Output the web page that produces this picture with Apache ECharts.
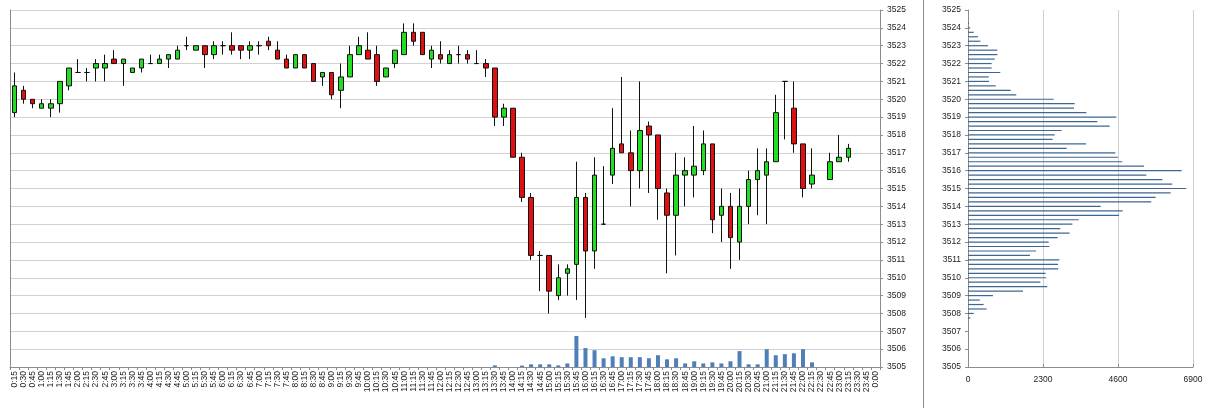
<!DOCTYPE html>
<html>
<head>
<meta charset="utf-8">
<script src="https://cdn.jsdelivr.net/npm/echarts@6/dist/echarts.min.js"></script>
<style>
html,body{margin:0;padding:0;background:#fff;}
#c{width:1211px;height:408px;}
</style>
</head>
<body>
<div id="c"></div>
<script>
// ---- time categories (15-minute bars) ----
const times = ["0:15","0:30","0:45","1:00","1:15","1:30","1:45","2:00","2:15","2:30","2:45","3:00","3:15","3:30","3:45","4:00","4:15","4:30","4:45","5:00","5:15","5:30","5:45","6:00","6:15","6:30","6:45","7:00","7:15","7:30","7:45","8:00","8:15","8:30","8:45","9:00","9:15","9:30","9:45","10:00","10:15","10:30","10:45","11:00","11:15","11:30","11:45","12:00","12:15","12:30","12:45","13:00","13:15","13:30","13:45","14:00","14:15","14:30","14:45","15:00","15:15","15:30","15:45","16:00","16:15","16:30","16:45","17:00","17:15","17:30","17:45","18:00","18:15","18:30","18:45","19:00","19:15","19:30","19:45","20:00","20:15","20:30","20:45","21:00","21:15","21:30","21:45","22:00","22:15","22:30","22:45","23:00","23:15","23:30","23:45","0:00"];

// ---- OHLC values (null = no bar) ----
const openP = [3519.25,3520.5,3520,3519.5,3519.5,3519.75,3520.75,3521.5,3521.5,3521.75,3521.75,3522.25,3522,3521.5,3521.75,3522,3522,3522.25,3522.25,3523,3522.75,3523,3522.5,3523,3523,3523,3522.75,3523,3523.25,3522.75,3522.25,3521.75,3522.5,3522,3521.25,3521.5,3520.5,3521.25,3522.5,3522.75,3522.5,3521.25,3522,3522.5,3523.75,3523.75,3522.25,3522.5,3522,3522.5,3522.5,3522,3522,3521.75,3519,3519.5,3516.75,3514.5,3511.25,3511.25,3509,3510.25,3510.75,3514.5,3511.5,3513,3515.75,3517.5,3517,3516,3518.5,3518,3514.75,3513.5,3515.75,3515.75,3516,3517.5,3513.5,3514,3512,3514,3515.5,3515.75,3516.5,3521,3519.5,3517.5,3515.25,null,3515.5,3516.5,3516.75,null,null,null];
const closeP = [3520.75,3520,3519.75,3519.75,3519.75,3521,3521.75,3521.5,3521.5,3522,3522,3522,3522.25,3521.75,3522.25,3522,3522.25,3522.5,3522.75,3523,3523,3522.5,3523,3523,3522.75,3522.75,3523,3523,3523,3522.25,3521.75,3522.5,3521.75,3521,3521.5,3520.25,3521.25,3522.5,3523,3522.25,3521,3521.75,3522.75,3523.75,3523.25,3522.5,3522.75,3522.25,3522.5,3522.5,3522.25,3522,3521.75,3519,3519.5,3516.75,3514.5,3511.25,3511.25,3509.25,3510,3510.5,3514.5,3511.5,3515.75,3513,3517.25,3517,3516,3518.25,3518,3515,3513.5,3515.75,3516,3516.25,3517.5,3513.25,3514,3512.25,3514,3515.5,3516,3516.5,3519.25,3521,3517.5,3515,3515.75,null,3516.5,3516.75,3517.25,null,null,null];
const lowP = [3519,3519.75,3519.5,3519.5,3519,3519.25,3520.5,3521.5,3521,3521,3521,3522,3520.75,3521.5,3521.5,3522,3522,3521.75,3522.25,3522.75,3522.75,3521.75,3522.25,3522.5,3522.5,3522.25,3522.25,3522.5,3522.75,3522.25,3521.75,3521.75,3521.75,3521,3520.75,3520,3519.5,3521.25,3522.5,3522.25,3520.75,3521.25,3521.75,3522.5,3523,3522.5,3521.75,3522,3522,3522,3522,3522,3521.25,3518.5,3518.5,3516.75,3514.25,3511,3509.25,3508,3508.75,3509,3508.75,3507.75,3510.5,3513,3515.25,3517,3514,3515,3514.75,3513.25,3510.25,3511.25,3514,3514.5,3515.75,3512.5,3512,3510.5,3511,3513,3513.5,3513,3516.5,3517.75,3517,3514.5,3515,null,3515.5,3516.5,3516.5,null,null,null];
const highP = [3521.5,3520.75,3520,3520,3520,3521,3521.75,3522.25,3521.75,3522.25,3522.5,3522.75,3522.25,3521.75,3522.25,3522.5,3522.5,3522.5,3523,3523.5,3523,3523,3523.25,3523.25,3523.75,3523,3523.25,3523.25,3523.5,3523.25,3522.5,3522.5,3522.5,3522,3521.5,3521.5,3522,3523,3523.5,3523.75,3523,3521.75,3522.75,3524.25,3524.25,3523.75,3523,3523.25,3522.75,3523,3522.75,3522.75,3522.25,3521.75,3519.75,3519.5,3517,3514.75,3511.5,3511.25,3510.75,3510.75,3516.5,3514.75,3516.75,3516.25,3519.5,3521.25,3518.25,3521,3518.75,3518,3515,3517,3516.75,3518.5,3518.25,3517.5,3515,3514.75,3515,3516,3517.25,3517.25,3520.25,3521,3521,3517.5,3517.25,null,3517,3518,3517.5,null,null,null];

// ---- volume per bar ----
const volume = [0,0,0,0,0,0,0,0,0,0,0,0,0,0,0,0,0,0,0,0,0,0,0,0,0,0,0,0,0,0,0,0,0,0,0,0,0,0,0,0,0,0,0,0,0,0,0,0,0,0,0,0,0,90,0,0,80,150,150,150,90,200,1740,1060,940,490,600,550,550,550,490,660,430,490,200,320,200,260,200,320,890,150,150,1000,660,720,770,1000,260,0,0,0,0,0,0,0];

// ---- price axis ticks ----
const priceMin = 3505, priceMax = 3525, priceStep = 1;

// ---- volume profile (price level categories, bottom to top) ----
const profileLevels = ["3505","3505.25","3505.5","3505.75","3506","3506.25","3506.5","3506.75","3507","3507.25","3507.5","3507.75","3508","3508.25","3508.5","3508.75","3509","3509.25","3509.5","3509.75","3510","3510.25","3510.5","3510.75","3511","3511.25","3511.5","3511.75","3512","3512.25","3512.5","3512.75","3513","3513.25","3513.5","3513.75","3514","3514.25","3514.5","3514.75","3515","3515.25","3515.5","3515.75","3516","3516.25","3516.5","3516.75","3517","3517.25","3517.5","3517.75","3518","3518.25","3518.5","3518.75","3519","3519.25","3519.5","3519.75","3520","3520.25","3520.5","3520.75","3521","3521.25","3521.5","3521.75","3522","3522.25","3522.5","3522.75","3523","3523.25","3523.5","3523.75","3524","3524.25","3524.5","3524.75","3525"];
const profileVolume = [0,0,0,0,0,0,0,0,0,0,0,70,175,570,480,360,765,1685,2430,2220,2400,2380,2770,2760,2800,1900,2085,2495,2475,2750,3115,2830,3200,3395,4630,4740,4070,5620,5755,6215,6695,6265,5960,5470,6550,5395,4730,4600,4520,3025,3620,2595,2660,2870,4345,3965,4550,3630,3250,3270,2625,1480,1310,850,645,635,990,725,725,820,900,900,615,380,305,175,70,30,0,0,0];
const profileTicks = [0, 2300, 4600, 6900];

// ---- build ----
const candleData = openP.map((o, i) => o === null ? '-' : [o, closeP[i], lowP[i], highP[i]]);
const profileData = profileVolume.map((v, i) => [v, profileLevels[i]]);
const plain = (v) => String(v);

const font = 'Liberation Sans, DejaVu Sans, sans-serif';
const chart = echarts.init(document.getElementById('c'), null, {renderer: 'canvas'});
chart.setOption({
  animation: false,
  backgroundColor: '#ffffff',
  grid: [
    {left: 10, right: 331, top: 10, bottom: 41, containLabel: false},
    {left: 968, right: 18, top: 10, bottom: 41, containLabel: false}
  ],
  graphic: [{
    type: 'line', shape: {x1: 923.5, y1: 0, x2: 923.5, y2: 408},
    style: {stroke: '#8c8c8c', lineWidth: 1}
  }],
  xAxis: [{
    type: 'category', gridIndex: 0, data: times, boundaryGap: true,
    axisLine: {show: true, lineStyle: {color: '#8c8c8c'}},
    axisTick: {show: true, length: 3, lineStyle: {color: '#8c8c8c'}},
    axisLabel: {interval: 0, rotate: 90, fontSize: 8.5, fontFamily: font, color: '#222', margin: 4},
    splitLine: {show: false}
  }, {
    type: 'value', gridIndex: 1, min: profileTicks[0], max: profileTicks[profileTicks.length - 1], interval: profileTicks[1] - profileTicks[0],
    axisLine: {show: true, lineStyle: {color: '#8c8c8c'}},
    axisTick: {show: true, inside: true, length: 3, lineStyle: {color: '#8c8c8c'}},
    axisLabel: {fontSize: 8.5, fontFamily: font, color: '#222', margin: 8, formatter: plain},
    splitLine: {show: true, lineStyle: {color: '#cfcfcf', width: 1}}
  }],
  yAxis: [{
    type: 'value', gridIndex: 0, position: 'right', min: priceMin, max: priceMax, interval: priceStep,
    axisLine: {show: true, lineStyle: {color: '#8c8c8c'}},
    axisTick: {show: true, length: 3, lineStyle: {color: '#8c8c8c'}},
    axisLabel: {fontSize: 8.5, fontFamily: font, color: '#222', margin: 7, formatter: plain},
    splitLine: {show: true, lineStyle: {color: '#d2d2d2', width: 1}}
  }, {
    type: 'value', gridIndex: 0, position: 'left', min: 0, max: 20000,
    axisLine: {show: true, onZero: false, lineStyle: {color: '#8c8c8c'}},
    axisTick: {show: false}, axisLabel: {show: false}, splitLine: {show: false}
  }, {
    type: 'category', gridIndex: 1, data: profileLevels, boundaryGap: false,
    axisLine: {show: true, lineStyle: {color: '#8c8c8c'}},
    axisTick: {show: true, length: 3, interval: (idx) => idx % 4 === 0, lineStyle: {color: '#8c8c8c'}},
    axisLabel: {interval: (idx) => idx % 4 === 0, fontSize: 8.5, fontFamily: font, color: '#222', margin: 7},
    splitLine: {show: false}
  }],
  series: [{
    type: 'bar', name: 'Volume', xAxisIndex: 0, yAxisIndex: 1, data: volume,
    barWidth: 4, itemStyle: {color: '#4f7fb8'}, silent: true
  }, {
    type: 'candlestick', name: 'Price', xAxisIndex: 0, yAxisIndex: 0, data: candleData,
    barWidth: 5,
    itemStyle: {
      color: '#22dd22', color0: '#e01010',
      borderColor: '#111', borderColor0: '#111', borderColorDoji: '#111', borderWidth: 1
    }
  }, {
    type: 'bar', name: 'Profile', xAxisIndex: 1, yAxisIndex: 2, data: profileData,
    barWidth: 1.2, itemStyle: {color: '#3e6690'}, silent: true
  }]
});
</script>
</body>
</html>
